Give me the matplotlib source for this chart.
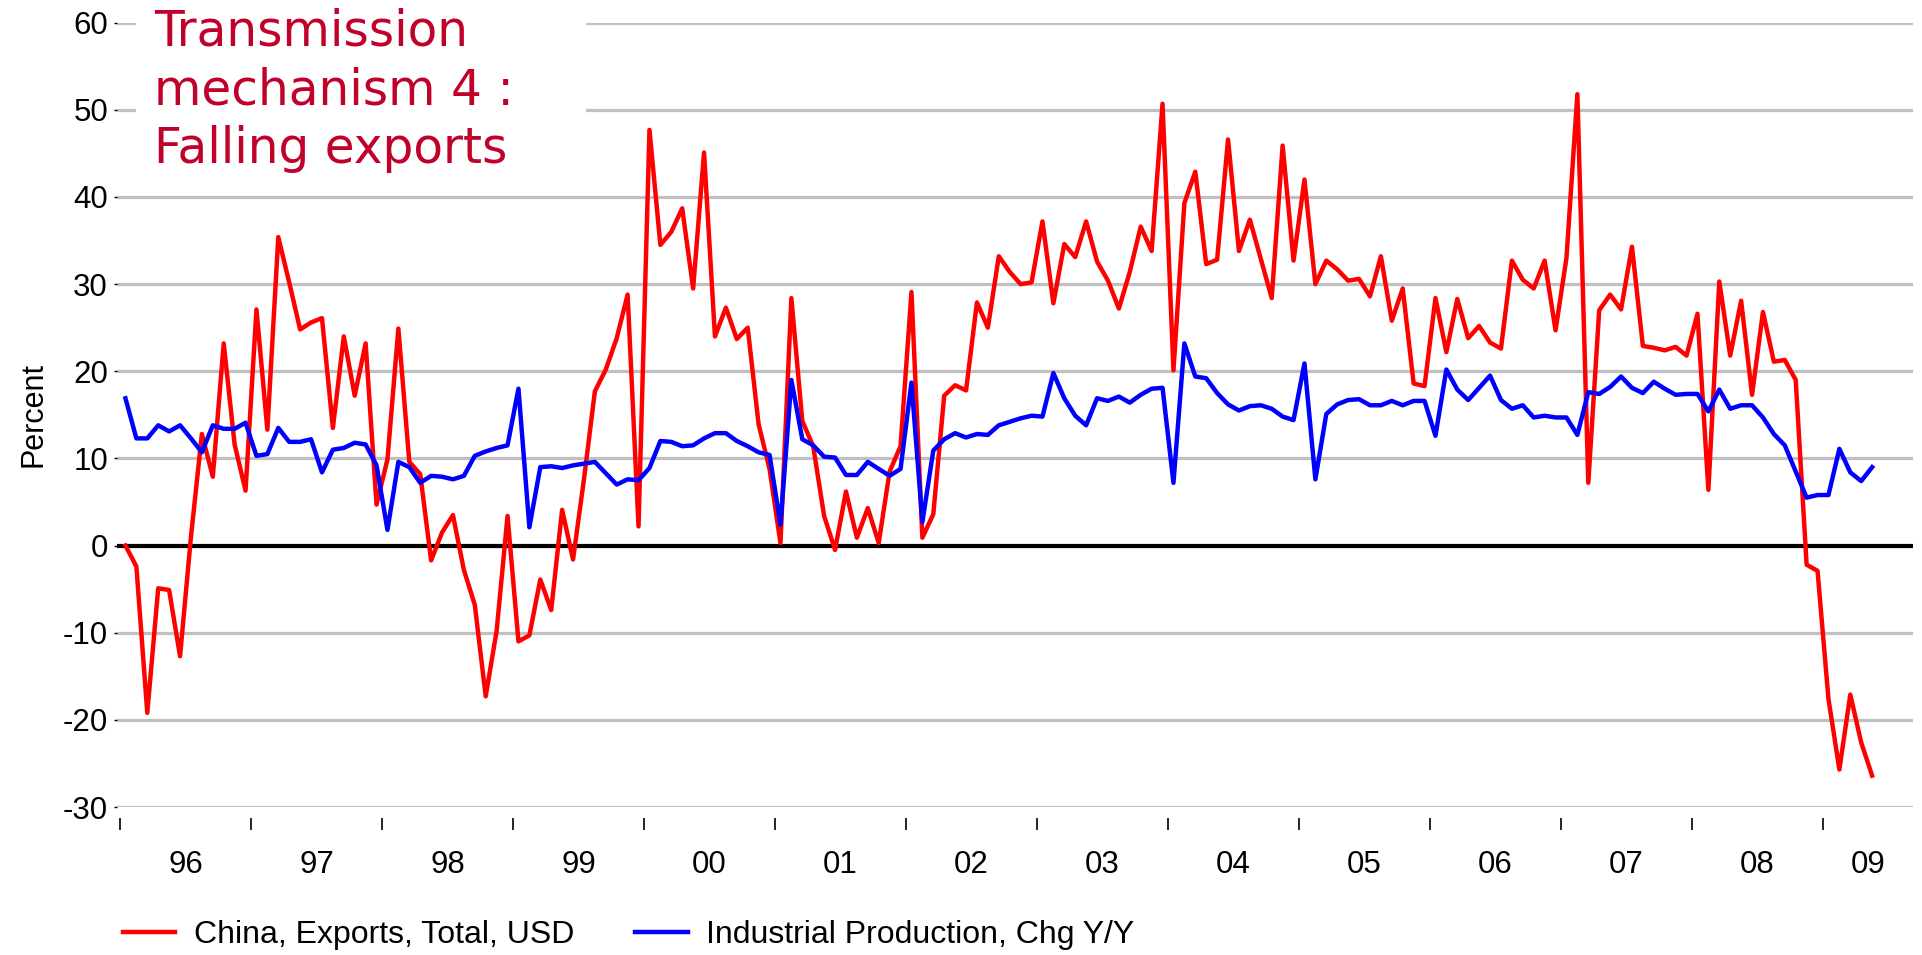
import numpy as np
import matplotlib.pyplot as plt
from matplotlib.patches import Rectangle

# monthly data, Jan 1996 .. May 2009
start_year = 1996
n_months = 161

exports = [
    0.0, -2.4, -19.2, -4.9, -5.1, -12.7, 1.0, 12.8, 7.9, 23.2, 11.6, 6.3,
    27.1, 13.3, 35.4, 30.2, 24.8, 25.6, 26.1, 13.5, 24.0, 17.2, 23.2, 4.7,
    9.9, 24.9, 9.6, 8.2, -1.7, 1.5, 3.5, -2.8, -6.8, -17.3, -9.8, 3.4,
    -11.0, -10.3, -3.9, -7.4, 4.1, -1.6, 7.6, 17.7, 20.2, 23.8, 28.8, 2.2,
    47.7, 34.5, 36.0, 38.7, 29.5, 45.1, 24.0, 27.3, 23.7, 25.0, 13.9, 8.8,
    0.3, 28.4, 14.3, 11.4, 3.4, -0.5, 6.2, 0.9, 4.3, 0.3, 8.5, 11.4,
    29.1, 0.9, 3.6, 17.2, 18.4, 17.8, 27.9, 25.0, 33.2, 31.4, 30.0, 30.2,
    37.2, 27.8, 34.6, 33.1, 37.2, 32.6, 30.4, 27.2, 31.4, 36.6, 33.8, 50.7,
    20.1, 39.3, 42.9, 32.3, 32.8, 46.6, 33.8, 37.4, 32.9, 28.4, 45.9, 32.7,
    42.0, 30.0, 32.7, 31.7, 30.4, 30.6, 28.6, 33.2, 25.8, 29.5, 18.6, 18.3,
    28.4, 22.2, 28.3, 23.8, 25.2, 23.3, 22.6, 32.7, 30.5, 29.5, 32.7, 24.7,
    33.0, 51.8, 7.2, 27.0, 28.8, 27.1, 34.3, 22.9, 22.7, 22.4, 22.8, 21.8,
    26.6, 6.4, 30.3, 21.8, 28.1, 17.3, 26.8, 21.1, 21.3, 19.0, -2.2, -2.9,
    -17.6, -25.7, -17.1, -22.6, -26.4,
]

ind_prod = [
    16.9, 12.3, 12.3, 13.8, 13.1, 13.8, 12.3, 10.7, 13.8, 13.4, 13.4, 14.1,
    10.3, 10.5, 13.5, 11.9, 11.9, 12.2, 8.4, 11.0, 11.2, 11.8, 11.6, 9.2,
    1.8, 9.6, 9.0, 7.2, 8.0, 7.9, 7.6, 8.0, 10.3, 10.8, 11.2, 11.5,
    18.0, 2.1, 9.0, 9.1, 8.9, 9.2, 9.4, 9.6, 8.3, 7.0, 7.6, 7.5,
    8.9, 12.0, 11.9, 11.4, 11.5, 12.3, 12.9, 12.9, 12.0, 11.4, 10.7, 10.4,
    2.4, 19.0, 12.2, 11.5, 10.2, 10.1, 8.1, 8.1, 9.6, 8.8, 8.0, 8.8,
    18.7, 2.7, 10.9, 12.2, 12.9, 12.4, 12.8, 12.7, 13.8, 14.2, 14.6, 14.9,
    14.8, 19.8, 16.9, 14.9, 13.8, 16.9, 16.6, 17.1, 16.4, 17.3, 18.0, 18.1,
    7.2, 23.2, 19.4, 19.2, 17.5, 16.2, 15.5, 16.0, 16.1, 15.7, 14.8, 14.4,
    20.9, 7.6, 15.1, 16.2, 16.7, 16.8, 16.1, 16.1, 16.6, 16.1, 16.6, 16.6,
    12.6, 20.2, 17.9, 16.7, 18.1, 19.5, 16.7, 15.7, 16.1, 14.7, 14.9, 14.7,
    14.7, 12.7, 17.6, 17.4, 18.2, 19.4, 18.1, 17.5, 18.8, 18.0, 17.3, 17.4,
    17.4, 15.4, 17.9, 15.7, 16.1, 16.1, 14.7, 12.8, 11.5, 8.5, 5.5, 5.8,
    5.8, 11.1, 8.4, 7.4, 9.0,
]

year_labels = ["96", "97", "98", "99", "00", "01", "02", "03",
               "04", "05", "06", "07", "08", "09"]
y_ticks = list(range(-30, 61, 10))

series_names = ["China, Exports, Total, USD", "Industrial Production, Chg Y/Y"]
title = "Transmission\nmechanism 4 :\nFalling exports"


def main():
    plt.rcParams["font.family"] = ["Liberation Sans", "DejaVu Sans"]

    x = start_year + (np.arange(n_months) + 0.5) / 12
    xmin = start_year - 3 / 131
    xmax = start_year + (1913 - 120) / 131

    fig = plt.figure(figsize=(19.22, 9.55), dpi=100)
    ax = fig.add_axes([117 / 1922, 1 - 807 / 955, (1913 - 117) / 1922, (807 - 22.7) / 955])

    ax.set_ylim(-30, 60)
    ax.set_xlim(xmin, xmax)

    ax.grid(axis="y", color="#C0C0C0", linewidth=2.3)
    ax.axhline(0, color="black", linewidth=3, zorder=2)

    ax.plot(x, exports, color="#FF0000", linewidth=3.2, label=series_names[0], zorder=3)
    ax.plot(x, ind_prod, color="#0000FF", linewidth=3.2, label=series_names[1], zorder=3)

    for side in ["top", "right", "left", "bottom"]:
        ax.spines[side].set_visible(False)
    ax.spines["bottom"].set_position(("outward", 8))

    # y axis
    ax.set_yticks(y_ticks)
    ax.set_yticklabels([str(v) for v in y_ticks])
    ax.tick_params(axis="y", length=2.5, width=1, pad=4, labelsize=22.5)
    ax.set_ylabel("Percent", fontsize=22, labelpad=10)

    # x axis: ticks at year starts, labels at mid-year
    years = np.arange(start_year, start_year + len(year_labels))
    ax.set_xticks(years)
    ax.set_xticklabels([])
    mids = list(years[:-1] + 0.5) + [(years[-1] + xmax) / 2]
    ax.set_xticks(mids, minor=True)
    ax.set_xticklabels(year_labels, minor=True)
    ax.tick_params(axis="x", which="major", length=8.6, width=1.2, direction="out")
    ax.tick_params(axis="x", which="minor", length=0, pad=23, labelsize=22.5)

    # title box over the top-left gridlines
    fig.patches.append(Rectangle((136 / 1922, 1 - 185 / 955), (586 - 136) / 1922, 185 / 955,
                                 transform=fig.transFigure, facecolor="white",
                                 edgecolor="none", zorder=5))
    fig.text(154 / 1922, 1 - 8 / 955, title, family="DejaVu Sans", fontsize=35,
             color="#C0022B", va="top", ha="left", linespacing=1.27, zorder=6)

    fig.legend(loc="center left", bbox_to_anchor=(110 / 1922, 1 - 935 / 955),
               ncol=2, frameon=False, fontsize=23, handlelength=1.65,
               handletextpad=0.58, columnspacing=1.9, borderaxespad=0)

    fig.savefig("out.png", dpi=100)


if __name__ == "__main__":
    main()
